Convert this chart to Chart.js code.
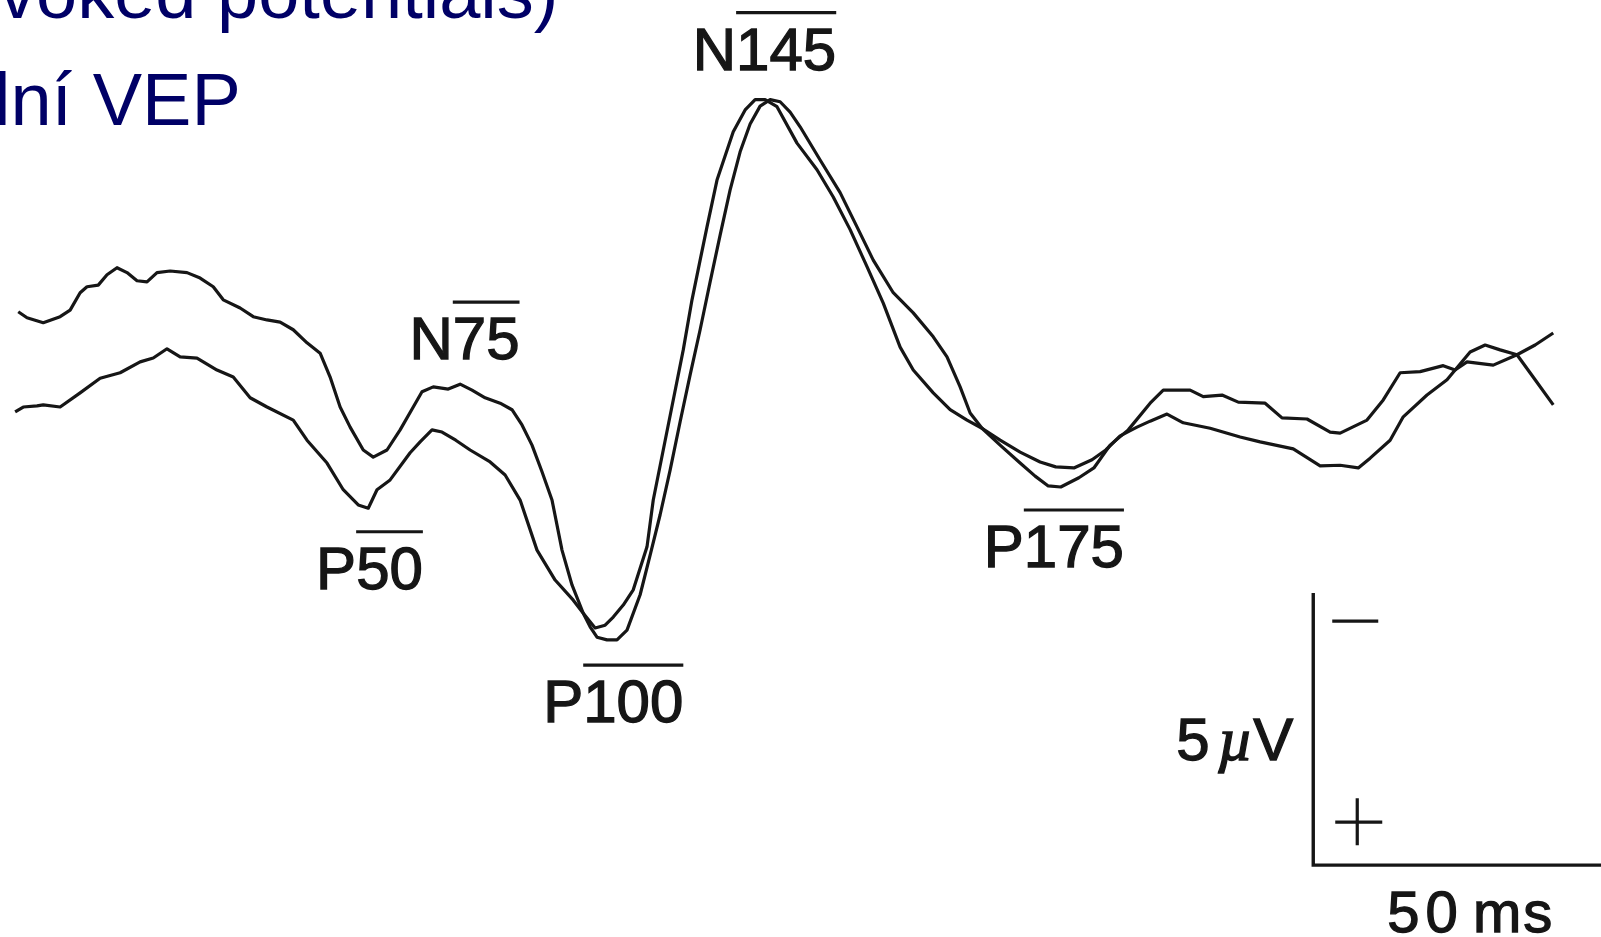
<!DOCTYPE html>
<html>
<head>
<meta charset="utf-8">
<title>VEP</title>
<script src="https://cdn.jsdelivr.net/npm/chart.js@4.4.1/dist/chart.umd.min.js"></script>
<style>
  html, body { margin: 0; padding: 0; background: #fff; overflow: hidden; }
  canvas { display: block; }
</style>
</head>
<body>
<canvas id="vep" width="1601" height="937"></canvas>
<script>
// Two superimposed pattern-reversal VEP recordings, latency in ms, amplitude in µV (negative up)
const upperTimes = [5.8, 7.2, 9.8, 12.5, 14.1, 15.7, 16.8, 18.6, 20.0, 21.6, 23.2, 24.8, 26.4, 28.0, 30.1, 32.8, 34.9, 37.0, 38.6, 41.3,
  43.4, 45.6, 47.7, 49.8, 52.0, 54.1, 55.7, 57.3, 58.9, 61.0, 62.6, 64.8, 66.9, 69.0, 70.4, 72.2, 74.6, 76.5, 78.4, 80.5,
  82.9, 84.8, 86.4, 88.0, 89.6, 91.2, 92.8, 94.4, 96.2, 97.3, 98.4, 100.0, 101.6, 103.2, 105.3, 106.9, 108.5, 110.1, 111.7, 113.3,
  114.9, 116.5, 118.1, 119.7, 121.3, 122.9, 124.5, 126.1, 127.7, 129.3, 130.9, 134.1, 137.3, 140.0, 142.6, 145.8, 149.0, 152.2, 154.4, 156.5,
  158.1, 160.0, 162.9, 166.1, 168.5, 170.6, 172.6, 175.5, 177.9, 180.5, 183.4, 186.9, 189.0, 193.3, 195.4, 198.4, 201.0, 205.3, 208.0, 212.0,
  215.7, 217.3, 221.6, 224.2, 226.9, 230.1, 233.8, 235.7, 237.6, 241.8, 245.6, 248.5, 251.4];
const upperAmps = [-1.62, -1.51, -1.42, -1.53, -1.65, -1.97, -2.08, -2.11, -2.30, -2.43, -2.34, -2.19, -2.17, -2.34, -2.37, -2.34, -2.24, -2.08, -1.84, -1.69,
  -1.53, -1.47, -1.43, -1.29, -1.05, -0.86, -0.42, 0.13, 0.50, 0.92, 1.05, 0.92, 0.55, 0.13, -0.15, -0.24, -0.20, -0.29, -0.18, -0.04,
  0.06, 0.18, 0.46, 0.83, 1.32, 1.84, 2.76, 3.40, 3.92, 4.17, 4.36, 4.41, 4.41, 4.23, 3.58, 2.85, 2.11, 1.29, 0.40, -0.46,
  -1.29, -2.17, -3.03, -3.86, -4.56, -5.07, -5.40, -5.52, -5.48, -5.29, -5.02, -4.41, -3.81, -3.18, -2.57, -1.97, -1.60, -1.16, -0.79, -0.24,
  0.24, 0.52, 0.83, 1.16, 1.40, 1.58, 1.60, 1.43, 1.25, 0.83, 0.55, 0.06, -0.18, -0.18, -0.06, -0.09, 0.04, 0.06, 0.33, 0.35,
  0.59, 0.61, 0.37, 0.00, -0.50, -0.52, -0.63, -0.55, -0.70, -0.64, -0.83, -1.01, -1.23];

const lowerTimes = [5.3, 6.6, 8.8, 9.8, 12.5, 15.7, 18.9, 22.1, 25.3, 27.4, 29.6, 31.7, 34.4, 37.6, 40.2, 42.9, 45.6, 49.8, 52.0, 55.2,
  57.8, 60.2, 61.8, 63.2, 65.3, 68.5, 70.1, 72.0, 73.6, 75.8, 78.1, 81.3, 83.7, 86.1, 88.8, 91.7, 94.6, 96.2, 98.1, 99.7,
  101.0, 102.6, 104.2, 106.4, 107.4, 109.0, 110.6, 112.2, 113.6, 114.9, 116.0, 117.6, 120.2, 122.1, 123.7, 125.3, 127.2, 130.4, 133.6, 136.2,
  138.9, 141.6, 144.2, 146.9, 149.0, 152.2, 154.9, 157.6, 160.0, 162.9, 166.1, 169.3, 171.8, 174.7, 177.6, 179.8, 182.1, 184.8, 186.9, 189.6,
  192.2, 196.5, 201.3, 204.5, 209.8, 214.1, 217.3, 220.2, 222.1, 225.3, 227.4, 231.2, 234.4, 235.7, 238.1, 240.5, 242.9, 245.6, 248.5, 251.4];
const lowerAmps = [0.22, 0.13, 0.11, 0.09, 0.13, -0.13, -0.40, -0.50, -0.70, -0.77, -0.94, -0.79, -0.77, -0.55, -0.42, -0.04, 0.13, 0.37, 0.74, 1.16,
  1.65, 1.93, 1.99, 1.65, 1.47, 0.97, 0.77, 0.55, 0.59, 0.74, 0.92, 1.14, 1.38, 1.84, 2.76, 3.31, 3.68, 3.92, 4.19, 4.14,
  3.99, 3.77, 3.49, 2.70, 1.84, 0.92, 0.00, -0.92, -1.84, -2.57, -3.18, -4.04, -4.93, -5.33, -5.52, -5.52, -5.39, -4.72, -4.23, -3.73,
  -3.13, -2.45, -1.78, -0.97, -0.55, -0.13, 0.18, 0.37, 0.52, 0.74, 0.96, 1.14, 1.23, 1.25, 1.10, 0.92, 0.66, 0.50, 0.39, 0.26,
  0.42, 0.52, 0.68, 0.77, 0.90, 1.21, 1.20, 1.25, 1.07, 0.74, 0.31, -0.09, -0.37, -0.55, -0.88, -1.01, -0.92, -0.83, -0.37, 0.09];

// Component names printed next to the peaks
const peakNames = ['N', 'N', 'P', 'P', 'P'];
const peakLatencies = ['145', '75', '50', '100', '175'];

// Calibration bar
const barTime = 213;   // ms where the bar starts
const barAmp = 8.55;   // µV at the bar corner
const barSpanMs = 50;
const barSpanUv = 5;

const ink = '#161616';
const navy = '#000066';
const labelFont = '60px "Liberation Sans", Arial, sans-serif';

// where each component label sits (ms, µV at the text baseline)
const labelAnchors = [
  { t: 125.2, v: -6.07 },
  { t: 77.2, v: -0.75 },
  { t: 62.0, v: 3.47 },
  { t: 101.0, v: 5.92 },
  { t: 171.5, v: 3.07 }
];

function toPoints(times, amps) { return times.map((t, i) => ({ x: t, y: amps[i] })); }

// filled text with a thin outline so the glyphs look as heavy as the printed ones
function inkText(ctx, str, px, py) {
  ctx.fillText(str, px, py);
  ctx.strokeText(str, px, py);
}

const textPlugin = {
  id: 'vepText',
  afterDraw(chart) {
    const { ctx, scales: { x, y } } = chart;
    ctx.save();

    // slide heading fragments
    ctx.fillStyle = navy;
    ctx.font = '74px "Liberation Sans", Arial, sans-serif';
    ctx.textAlign = 'left';
    ctx.textBaseline = 'alphabetic';
    ctx.fillText('voked potentials)', -1, 18);
    ctx.fillText('lní VEP', -6, 125);

    // peak labels with a bar over the latency
    ctx.fillStyle = ink;
    ctx.strokeStyle = ink;
    ctx.font = labelFont;
    peakNames.forEach((name, i) => {
      const a = labelAnchors[i];
      const text = name + peakLatencies[i];
      const w = ctx.measureText(text).width;
      const wName = ctx.measureText(name).width;
      const left = x.getPixelForValue(a.t) - w / 2;
      const base = y.getPixelForValue(a.v);
      ctx.lineWidth = 1.3;
      inkText(ctx, text, left, base);
      ctx.lineWidth = 3.2;
      ctx.beginPath();
      ctx.moveTo(left + wName, base - 57);
      ctx.lineTo(left + w, base - 57);
      ctx.stroke();
    });

    // polarity marks and units beside the calibration bar
    const bx = x.getPixelForValue(barTime);
    const bBottom = y.getPixelForValue(barAmp);
    const bTop = y.getPixelForValue(barAmp - barSpanUv);
    ctx.lineWidth = 3.2;
    ctx.beginPath();
    ctx.moveTo(bx + 19, bTop + 28); ctx.lineTo(bx + 65, bTop + 28);
    ctx.moveTo(bx + 22, bBottom - 43); ctx.lineTo(bx + 69, bBottom - 43);
    ctx.moveTo(bx + 44, bBottom - 67); ctx.lineTo(bx + 44, bBottom - 20);
    ctx.stroke();

    ctx.lineWidth = 1.3;
    ctx.font = labelFont;
    const right = bx - 20, base = bBottom - 105;
    const wV = ctx.measureText('V').width;
    inkText(ctx, 'V', right - wV, base);
    ctx.font = 'italic 62px "Liberation Serif", "Times New Roman", serif';
    const wMu = ctx.measureText('µ').width;
    inkText(ctx, 'µ', right - wV - wMu, base);
    ctx.font = labelFont;
    const w5 = ctx.measureText(barSpanUv + '').width;
    inkText(ctx, barSpanUv + '', right - wV - wMu - w5 - 8, base);

    ctx.font = '58px "Liberation Sans", Arial, sans-serif';
    ctx.letterSpacing = '6px';
    inkText(ctx, barSpanMs + '', bx + 74, bBottom + 67);
    ctx.letterSpacing = '2px';
    const wMs = ctx.measureText('ms').width;
    inkText(ctx, 'ms', bx + 241 - wMs, bBottom + 67);

    ctx.restore();
  }
};

const traceStyle = { borderColor: ink, borderWidth: 3.2, pointRadius: 0, tension: 0, fill: false, borderJoinStyle: 'round' };

new Chart(document.getElementById('vep'), {
  type: 'line',
  data: {
    datasets: [
      { label: 'Recording 1', data: toPoints(upperTimes, upperAmps), ...traceStyle },
      { label: 'Recording 2', data: toPoints(lowerTimes, lowerAmps), ...traceStyle },
      { label: 'Calibration', data: [
          { x: barTime, y: barAmp - barSpanUv },
          { x: barTime, y: barAmp },
          { x: barTime + barSpanMs, y: barAmp }
        ], borderColor: ink, borderWidth: 3.4, pointRadius: 0, tension: 0 }
    ]
  },
  options: {
    responsive: false,
    animation: false,
    devicePixelRatio: 1,
    layout: { padding: 0 },
    plugins: { legend: { display: false }, tooltip: { enabled: false }, title: { display: false } },
    scales: {
      x: { type: 'linear', min: 2.88, max: 259.04, display: false },
      y: { type: 'linear', min: -7.35, max: 9.87, reverse: true, display: false }
    }
  },
  plugins: [textPlugin]
});
</script>
</body>
</html>
